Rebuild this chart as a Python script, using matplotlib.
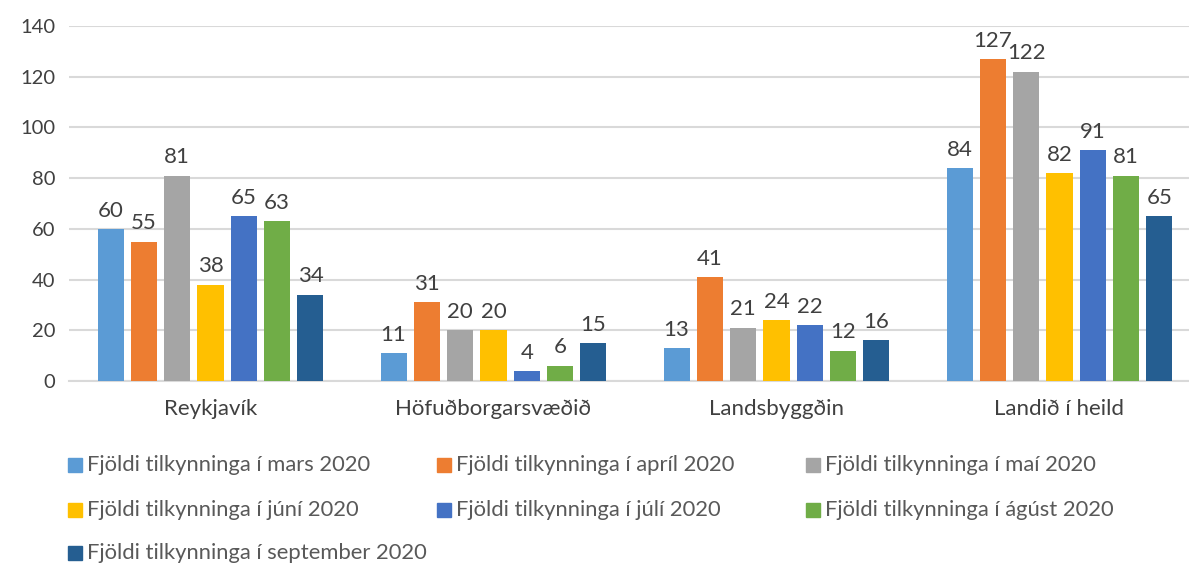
import matplotlib
matplotlib.use("Agg")
import matplotlib.pyplot as plt
import numpy as np
from matplotlib.patches import Rectangle

plt.rcParams["font.family"] = ["Lato", "DejaVu Sans"]

categories = ["Reykjavík", "Höfuðborgarsvæðið", "Landsbyggðin", "Landið í heild"]
series_names = [
    "Fjöldi tilkynninga í mars 2020",
    "Fjöldi tilkynninga í apríl 2020",
    "Fjöldi tilkynninga í maí 2020",
    "Fjöldi tilkynninga í júní 2020",
    "Fjöldi tilkynninga í júlí 2020",
    "Fjöldi tilkynninga í ágúst 2020",
    "Fjöldi tilkynninga í september 2020",
]
mars = [60, 11, 13, 84]
april = [55, 31, 41, 127]
mai = [81, 20, 21, 122]
juni = [38, 20, 24, 82]
juli = [65, 4, 22, 91]
agust = [63, 6, 12, 81]
september = [34, 15, 16, 65]
values = [mars, april, mai, juni, juli, agust, september]
colors = ["#5B9BD5", "#ED7D31", "#A5A5A5", "#FFC000", "#4472C4", "#70AD47", "#255E91"]

TEXT = "#404040"
LEG = "#595959"

W, H = 1189, 565
fig = plt.figure(figsize=(W / 100, H / 100), dpi=100)
# plot area runs slightly past the right edge, as in the cropped original
ax = fig.add_axes([69 / W, 1 - 381 / H, (1201 - 69) / W, (381 - 26) / H])

x = np.arange(len(categories))
step = 0.1177
bw = 0.092
for i, (vals, c) in enumerate(zip(values, colors)):
    pos = x + (i - 3) * step
    ax.bar(pos, vals, width=bw, color=c, zorder=3)
    for p, v in zip(pos, vals):
        ax.annotate(str(v), (p, v), xytext=(0, 6), textcoords="offset points",
                    ha="center", va="bottom", fontsize=16, color=TEXT)

ax.set_xlim(-0.5, 3.5)
ax.set_ylim(0, 140)
ax.set_yticks(range(0, 141, 20))
ax.set_xticks(x)
ax.set_xticklabels(categories, fontsize=16)
ax.tick_params(axis="both", length=0, colors=TEXT)
ax.tick_params(axis="y", labelsize=14.5, pad=10)
ax.tick_params(axis="x", pad=13)
ax.grid(axis="y", color="#D9D9D9", linewidth=1.5, zorder=0)
for s in ("top", "right", "left"):
    ax.spines[s].set_visible(False)
ax.spines["bottom"].set_color("#D9D9D9")
ax.spines["bottom"].set_linewidth(1.5)

# legend laid out row by row, three per row
col_x = [68, 437, 806]
row_y = [465, 510, 553]
for i, (name, c) in enumerate(zip(series_names, colors)):
    px = col_x[i % 3]
    py = row_y[i // 3]
    fig.patches.append(Rectangle(((px) / W, 1 - (py + 7) / H), 14 / W, 14 / H,
                                 transform=fig.transFigure, color=c))
    fig.text((px + 19) / W, 1 - py / H, name, fontsize=15.8, color=LEG,
             va="center", ha="left")

fig.savefig("out.png", dpi=100, facecolor="white")
